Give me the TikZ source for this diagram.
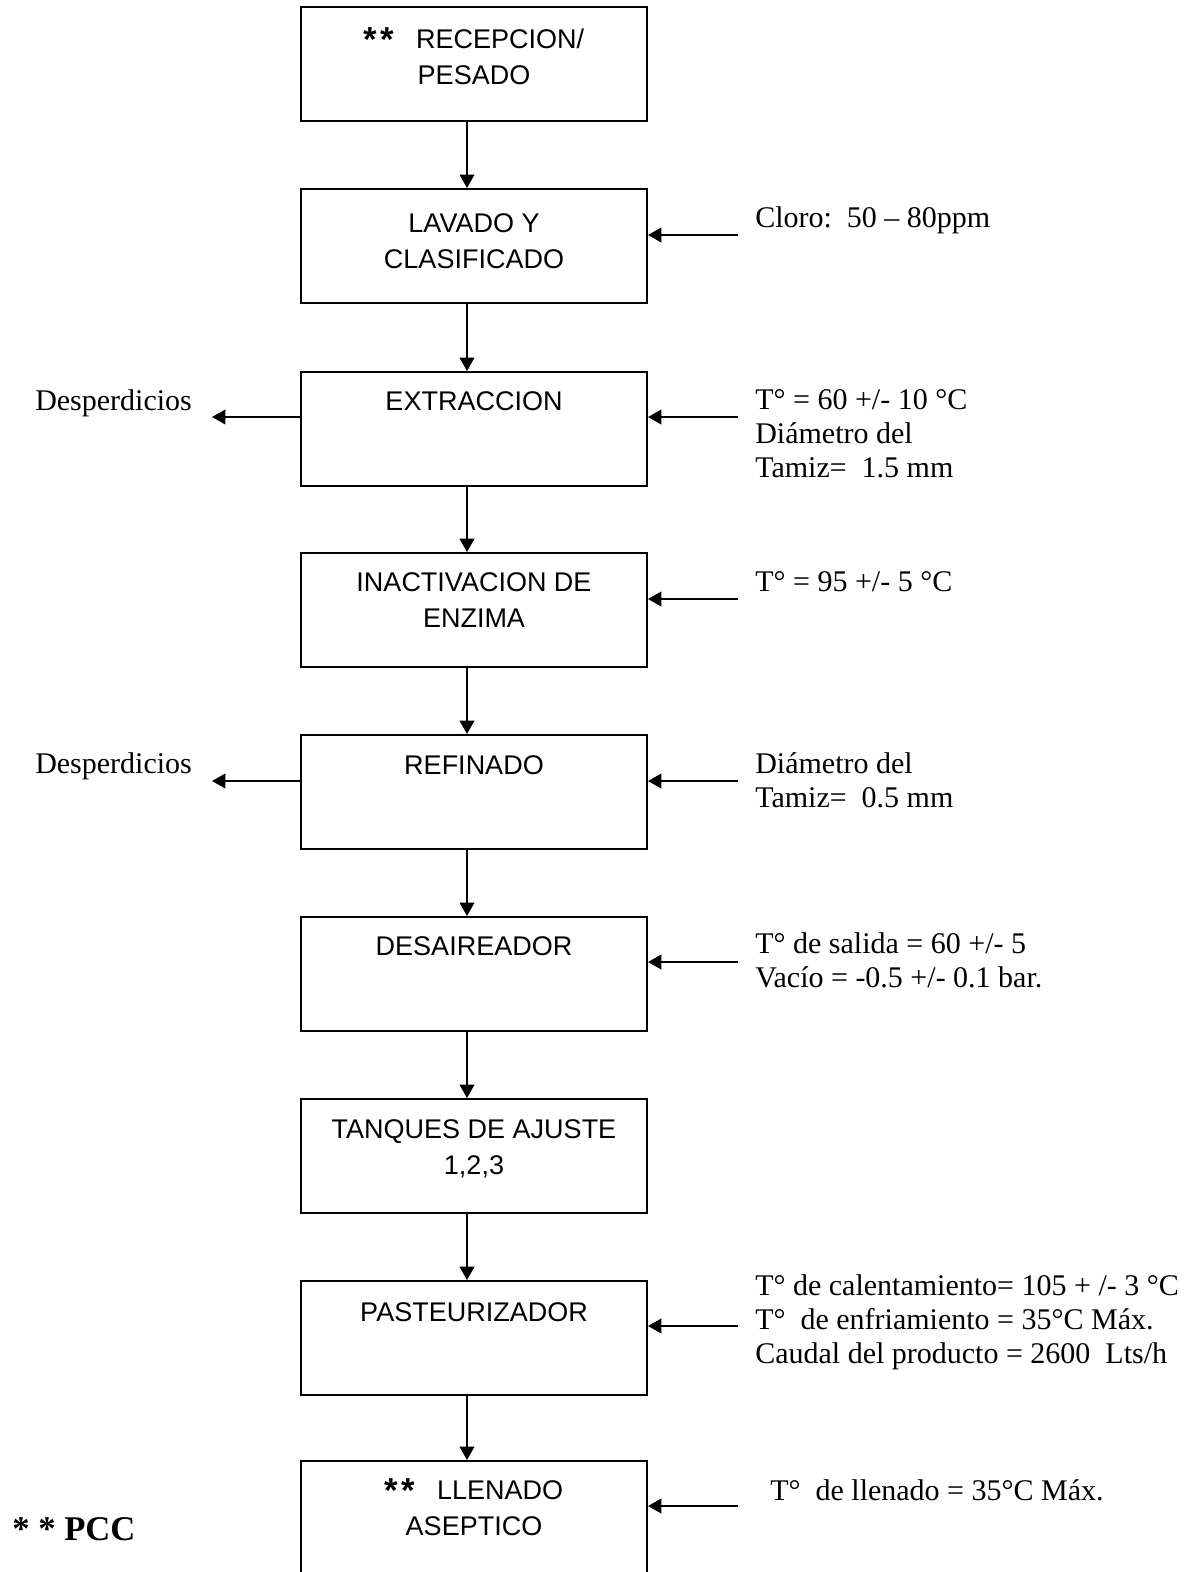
\documentclass[tikz,border=0pt]{standalone}
\usepackage{fontspec}
\setmainfont{Liberation Serif}
\newfontfamily\boxfont{Liberation Sans}
\usetikzlibrary{arrows.meta}

% critical-control-point mark used inside the stage boxes
\newcommand{\ccpmark}{\raisebox{-2.5pt}{\bfseries\fontsize{26pt}{26pt}\selectfont *\hspace{2pt}*}}

\tikzset{
  stage/.style={draw, line width=1.5pt, minimum width=259.5pt, minimum height=85.5pt, inner sep=0pt},
  stagetext/.style={anchor=north, align=center, inner sep=0pt,
                    font=\boxfont\fontsize{20.25pt}{27pt}\selectfont},
  note/.style={anchor=north west, align=left, inner sep=0pt,
               font=\fontsize{22.5pt}{25.5pt}\selectfont},
  flow/.style={line width=1.2pt, -{Triangle[length=10pt,width=11pt]}}
}

\begin{document}
\begin{tikzpicture}[x=0.75pt, y=-0.75pt]
\useasboundingbox (0,0) rectangle (1201,1572);

% process stages
\node[stage] (b1) at (474,64)   {};
\node[stage] (b2) at (474,246)  {};
\node[stage] (b3) at (474,429)  {};
\node[stage] (b4) at (474,610)  {};
\node[stage] (b5) at (474,792)  {};
\node[stage] (b6) at (474,974)  {};
\node[stage] (b7) at (474,1156) {};
\node[stage] (b8) at (474,1338) {};
\node[stage] (b9) at (474,1518) {};

\node[stagetext] (t1) at (474,27.3)   {\ccpmark\ \ \ RECEPCION/\\PESADO};
\node[stagetext] (t2) at (474,213.3)  {LAVADO Y\\CLASIFICADO};
\node[stagetext] (t3) at (474,391.3)  {EXTRACCION};
\node[stagetext] (t4) at (474,572.8)  {INACTIVACION DE\\ENZIMA};
\node[stagetext] (t5) at (474,755.3)  {REFINADO};
\node[stagetext] (t6) at (474,936.3)  {DESAIREADOR};
\node[stagetext] (t7) at (474,1119.3) {TANQUES DE AJUSTE\\1,2,3};
\node[stagetext] (t8) at (474,1302.3) {PASTEURIZADOR};
\node[stagetext] (t9) at (474,1478.3) {\ccpmark\ \ \ LLENADO\\ASEPTICO};

% main flow
\coordinate (ax) at (467,0);
\foreach \a/\b in {b1/b2,b2/b3,b3/b4,b4/b5,b5/b6,b6/b7,b7/b8,b8/b9}
  \draw[flow] (\a.south -| ax) -- (\b.north -| ax);

% inputs on the right
\coordinate (r2) at (738,235);
\coordinate (r3) at (738,417);
\coordinate (r4) at (738,599);
\coordinate (r5) at (738,781);
\coordinate (r6) at (738,962);
\coordinate (r8) at (738,1326);
\coordinate (r9) at (738,1506);
\foreach \n in {2,3,4,5,6,8,9}
  \draw[flow] (r\n) -- (b\n.east |- r\n);

% waste outputs on the left
\coordinate (l3) at (212,417);
\coordinate (l5) at (212,781);
\draw[flow] (b3.west |- l3) -- (l3);
\draw[flow] (b5.west |- l5) -- (l5);

% process conditions
\node[note] (c2) at (755,206.5)  {Cloro:\ \ 50 – 80ppm};
\node[note] (c3) at (755,389.5)  {T° = 60 +/- 10 °C\\Diámetro del\\Tamiz=\ \ 1.5 mm};
\node[note] (c4) at (755,571.5)  {T° = 95 +/- 5 °C};
\node[note] (c5) at (755,752.5)  {Diámetro del\\Tamiz=\ \ 0.5 mm};
\node[note] (c6) at (755,932.5)  {T° de salida = 60 +/- 5\\Vacío = -0.5 +/- 0.1 bar.};
\node[note] (c8) at (755,1274.5) {T° de calentamiento= 105 + /- 3 °C\\T°\ \ de enfriamiento = 35°C Máx.\\Caudal del producto = 2600\ \ Lts/h};
\node[note] (c9) at (770,1479.5) {T°\ \ de llenado = 35°C Máx.};

\node[note] (w3) at (35,389.5) {Desperdicios};
\node[note] (w5) at (35,752.5) {Desperdicios};

% legend
\node[anchor=base west, inner sep=0pt, font=\bfseries\fontsize{26pt}{30pt}\selectfont]
  (pcc) at (12,1540) {* * PCC};
\end{tikzpicture}
\end{document}
